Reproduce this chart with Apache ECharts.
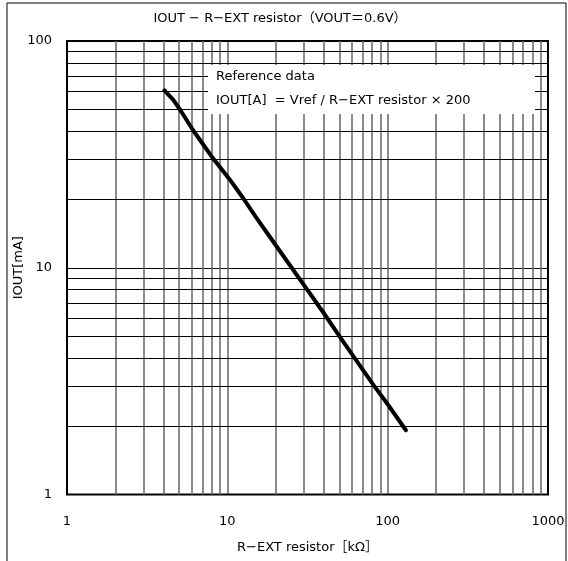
<!DOCTYPE html>
<html>
<head>
<meta charset="utf-8">
<script src="https://cdn.jsdelivr.net/npm/echarts@6/dist/echarts.min.js"></script>
<style>
html,body{margin:0;padding:0;background:#fff;}
#chart{width:568px;height:561px;}
</style>
</head>
<body>
<div id="chart"></div>
<script>
// Data
const resistanceK = [4.05, 4.6, 5.1, 6.1, 7.4, 8.0, 10.4, 12.6, 15, 20, 30, 40, 50, 60, 80, 100, 130];
const ioutMA      = [60.5, 55, 49.5, 40.5, 33.4, 30.9, 24.4, 20.2, 16.8, 12.6, 8.4, 6.3, 5.0, 4.15, 3.1, 2.5, 1.92];
const xMinorGrid = [2,3,4,5,6,7,8,9,20,30,40,50,60,70,80,90,200,300,400,500,600,700,800,900];
const yMinorGrid = [2,3,4,5,6,7,8,9,20,30,40,50,60,70,80,90];
const titleText = 'IOUT − R−EXT resistor（VOUT＝0.6V）';
const xName = 'R−EXT resistor［kΩ］';
const yName = 'IOUT[mA]';
const noteLines = ['Reference data', 'IOUT[A]  = Vref / R−EXT resistor × 200'];

const FONT = '"DejaVu Sans", "Noto Sans CJK JP", sans-serif';
const FS = 13;
const chart = echarts.init(document.getElementById('chart'), null, {renderer: 'canvas'});

const option = {
  animation: false,
  backgroundColor: '#fff',
  grid: {left: 67, right: 20, top: 41, bottom: 66.5, outerBoundsMode: 'none', containLabel: false, show: true, borderColor: '#000', borderWidth: 2, backgroundColor: 'transparent', z: 5},
  xAxis: {
    type: 'log', logBase: 10, min: 1, max: 1000,
    name: xName, nameLocation: 'middle', nameGap: 47, nameMoveOverlap: false,
    nameTextStyle: {fontFamily: FONT, fontSize: FS, color: '#000'},
    axisLine: {show: false}, axisTick: {show: false},
    axisLabel: {fontFamily: FONT, fontSize: FS, color: '#000', margin: 21, formatter: v => String(Math.round(v))},
    splitLine: {show: true, lineStyle: {color: '#6e6e6e', width: 1.6}}
  },
  yAxis: {
    type: 'log', logBase: 10, min: 1, max: 100,
    name: yName, nameLocation: 'middle', nameGap: 42, nameRotate: 90, nameMoveOverlap: false,
    nameTextStyle: {fontFamily: FONT, fontSize: FS, color: '#000'},
    axisLine: {show: false}, axisTick: {show: false},
    axisLabel: {fontFamily: FONT, fontSize: FS, color: '#000', margin: 15, padding: [6, 0, 0, 0], formatter: v => String(Math.round(v))},
    splitLine: {show: true, lineStyle: {color: '#000', width: 1}}
  },
  series: [
    {
      type: 'line', data: [], z: 1, silent: true,
      markLine: {
        silent: true, symbol: ['none', 'none'], label: {show: false}, animation: false,
        lineStyle: {color: '#6e6e6e', width: 1.6, type: 'solid'},
        emphasis: {disabled: true},
        data: xMinorGrid.map(v => ({xAxis: v}))
      }
    },
    {
      type: 'line', data: [], z: 1, silent: true,
      markLine: {
        silent: true, symbol: ['none', 'none'], label: {show: false}, animation: false,
        lineStyle: {color: '#000', width: 1, type: 'solid'},
        emphasis: {disabled: true},
        data: yMinorGrid.map(v => ({yAxis: v}))
      }
    },
    {
      type: 'line', z: 10,
      data: resistanceK.map((r, i) => [r, ioutMA[i]]),
      showSymbol: false, symbol: 'none',
      lineStyle: {color: '#000', width: 4, cap: 'round', join: 'round'}
    }
  ],
  graphic: [
    {type: 'rect', z: 0, silent: true, shape: {x: 7, y: 3, width: 559, height: 600}, style: {fill: 'none', stroke: '#000', lineWidth: 1}},
    {type: 'text', z: 100, x: 280, y: 12, style: {text: titleText, font: FS + 'px ' + FONT, fill: '#000', textAlign: 'center'}},
    {type: 'rect', z: 100, silent: true, shape: {x: 208, y: 65, width: 327, height: 49}, style: {fill: '#fff', stroke: 'none'}},
    {type: 'text', z: 101, x: 216, y: 70, style: {text: noteLines[0], font: FS + 'px ' + FONT, fill: '#000'}},
    {type: 'text', z: 101, x: 216, y: 94, style: {text: noteLines[1], font: FS + 'px ' + FONT, fill: '#000'}}
  ]
};
chart.setOption(option);
</script>
</body>
</html>
